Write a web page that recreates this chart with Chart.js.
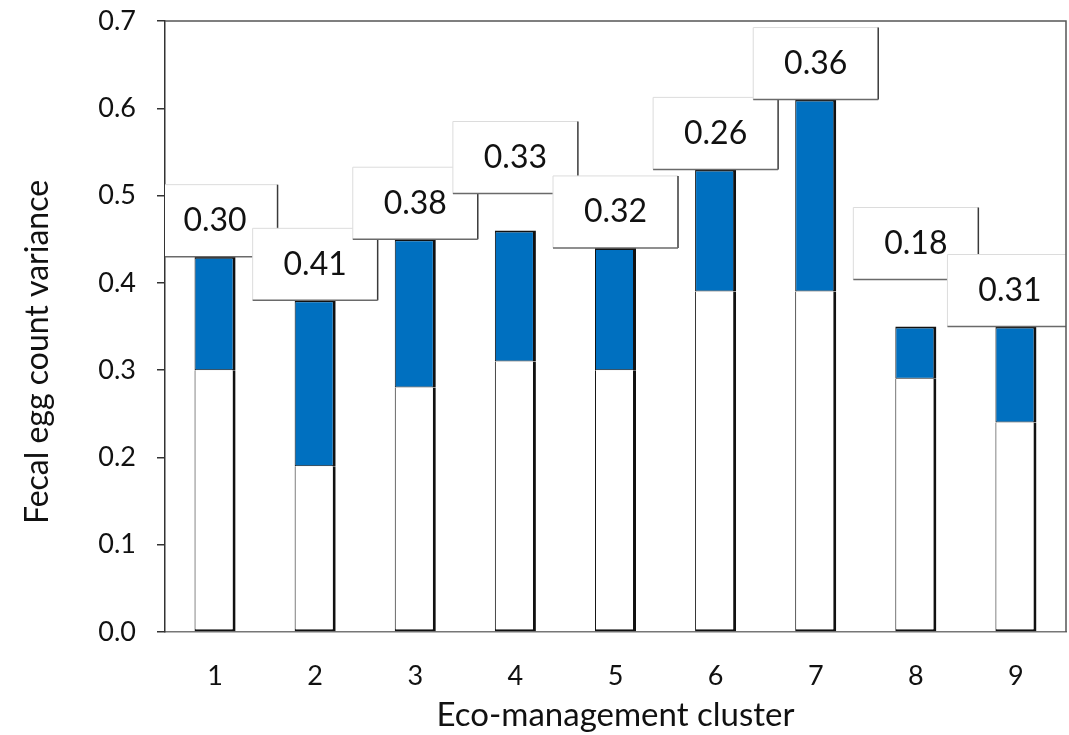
<!DOCTYPE html>
<html>
<head>
<meta charset="utf-8">
<script src="https://cdn.jsdelivr.net/npm/chart.js@4.4.1/dist/chart.umd.min.js"></script>
<style>
    body { margin: 0; background: #fff; }
    canvas { display: block; }
</style>
</head>
<body>
<canvas id="barChart" width="1069" height="735"></canvas>
<script>
// data
let clusters = ['1', '2', '3', '4', '5', '6', '7', '8', '9']
let lowerValues = [0.30, 0.19, 0.28, 0.31, 0.30, 0.39, 0.39, 0.29, 0.24]
let totalValues = [0.43, 0.38, 0.45, 0.46, 0.44, 0.53, 0.61, 0.35, 0.35]
let boxLabels = ['0.30', '0.41', '0.38', '0.33', '0.32', '0.26', '0.36', '0.18', '0.31']
let yTicks = [0, 0.1, 0.2, 0.3, 0.4, 0.5, 0.6, 0.7]

const FONT = 'Lato, "Open Sans", sans-serif'

// label boxes sit on top of the bars, a couple are lifted / nudged
const labelBoxes = {
    id: 'labelBoxes',
    afterDatasetsDraw(chart) {
        const ctx = chart.ctx
        const area = chart.chartArea
        const meta = chart.getDatasetMeta(1)
        const lift = [0, 0, 0, 37, 0, 0, 0, 47, 0]
        const shift = [0, 0, 0, 0, 0, 0, 0, 0, -6]
        const w = 125, h = 72
        ctx.save()
        ctx.beginPath()
        ctx.rect(area.left, area.top, area.right - area.left, area.bottom - area.top)
        ctx.clip()
        meta.data.forEach((bar, i) => {
            let cx = bar.x + shift[i]
            let bottom = bar.y - lift[i]
            let left = cx - w / 2
            let top = bottom - h
            ctx.fillStyle = '#fff'
            ctx.fillRect(left, top, w, h)
            // light top / left
            ctx.strokeStyle = '#dcdcdc'
            ctx.lineWidth = 1
            ctx.beginPath()
            ctx.moveTo(left, bottom)
            ctx.lineTo(left, top)
            ctx.lineTo(left + w, top)
            ctx.stroke()
            // darker right / bottom
            ctx.strokeStyle = '#3a3a3a'
            ctx.lineWidth = 1.5
            ctx.beginPath()
            ctx.moveTo(left + w, top)
            ctx.lineTo(left + w, bottom)
            ctx.stroke()
            ctx.strokeStyle = '#6a6a6a'
            ctx.beginPath()
            ctx.moveTo(left + w, bottom)
            ctx.lineTo(left, bottom)
            ctx.stroke()
            ctx.fillStyle = '#111'
            ctx.font = '32px ' + FONT
            ctx.textAlign = 'center'
            ctx.textBaseline = 'middle'
            ctx.fillText(boxLabels[i], cx, top + h / 2)
        })
        ctx.restore()
    }
}

// frame round the plot and the y axis title
const frameAndTitle = {
    id: 'frameAndTitle',
    afterDraw(chart) {
        const ctx = chart.ctx
        const area = chart.chartArea
        ctx.save()
        ctx.strokeStyle = '#555'
        ctx.lineWidth = 1.5
        ctx.beginPath()
        ctx.moveTo(area.left, area.top)
        ctx.lineTo(area.right, area.top)
        ctx.lineTo(area.right, area.bottom)
        ctx.stroke()
        ctx.translate(38, 352)
        ctx.rotate(-Math.PI / 2)
        ctx.fillStyle = '#111'
        ctx.font = '32px ' + FONT
        ctx.textAlign = 'center'
        ctx.textBaseline = 'middle'
        ctx.fillText('Fecal egg count variance', 0, 0)
        ctx.restore()
    }
}

function buildGraph() {
    const chart = document.getElementById('barChart')
    let upperValues = totalValues.map((t, i) => +(t - lowerValues[i]).toFixed(2))
    let barChart = new Chart(chart, {
        type: 'bar',
        data: {
            labels: clusters,
            datasets: [{
                label: 'lower',
                data: lowerValues,
                backgroundColor: '#ffffff',
                borderColor: '#111',
                borderWidth: { top: 0, right: 3, bottom: 2, left: 1 },
                borderSkipped: false,
                barPercentage: 0.41,
                categoryPercentage: 1.0
            }, {
                label: 'upper',
                data: upperValues,
                backgroundColor: '#0070c0',
                borderColor: '#111',
                borderWidth: { top: 2, right: 3, bottom: 1, left: 1 },
                borderSkipped: false,
                barPercentage: 0.41,
                categoryPercentage: 1.0
            }]
        },
        options: {
            responsive: false,
            animation: false,
            devicePixelRatio: 1,
            layout: { padding: { top: 21, right: 3, left: 0, bottom: 0 } },
            plugins: {
                legend: { display: false },
                tooltip: { enabled: false }
            },
            scales: {
                x: {
                    stacked: true,
                    grid: { display: false },
                    border: { display: true, color: '#777', width: 1.5 },
                    ticks: {
                        color: '#111',
                        padding: 20,
                        font: { family: FONT, size: 27 }
                    },
                    title: {
                        display: true,
                        text: 'Eco-management cluster',
                        color: '#111',
                        padding: { top: 1, bottom: 0 },
                        font: { family: FONT, size: 33 }
                    },
                    afterFit: (scale) => {
                        scale.height = 103
                        scale.paddingLeft = 0
                        scale.paddingRight = 0
                    }
                },
                y: {
                    stacked: true,
                    min: 0,
                    max: 0.7,
                    afterBuildTicks: (scale) => { scale.ticks = yTicks.map(v => ({ value: v })) },
                    grid: {
                        drawOnChartArea: false,
                        drawTicks: true,
                        tickLength: 8,
                        color: '#333',
                        lineWidth: 1.5
                    },
                    border: { display: true, color: '#333', width: 1.5 },
                    ticks: {
                        color: '#111',
                        padding: 21,
                        font: { family: FONT, size: 27 },
                        callback: (v) => v.toFixed(1)
                    },
                    afterFit: (scale) => {
                        scale.width = 165
                        scale.paddingTop = 0
                        scale.paddingBottom = 0
                    }
                }
            }
        },
        plugins: [labelBoxes, frameAndTitle]
    })
}

buildGraph()
</script>
</body>
</html>
